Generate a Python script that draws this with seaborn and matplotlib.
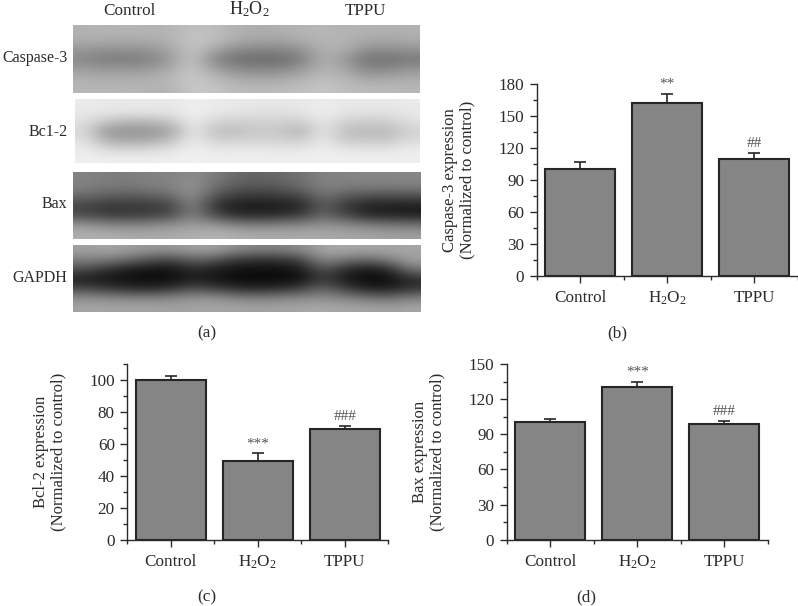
import numpy as np
import pandas as pd
import matplotlib
matplotlib.use("Agg")
import matplotlib.pyplot as plt
from matplotlib.ticker import MultipleLocator
import seaborn as sns

W, H = 798, 606
TXT = "#2b2b2b"
BAR = "#858585"
EDGE = "#262626"
H2O2 = r"H$_2$O$_2$"
FS = 12.3

# --- Data ---
groups = ["Control", "H2O2", "TPPU"]

casp_vals = [100, 162, 110]
casp_tops = [107, 171, 115]
casp_marks = ["", "**", "##"]

bcl_vals = [100, 49, 69.5]
bcl_tops = [102.5, 54, 71.3]
bcl_marks = ["", "***", "###"]

bax_vals = [100.5, 130.5, 98.5]
bax_tops = [103, 135, 101.5]
bax_marks = ["", "***", "###"]

# blot grey levels, read on a coarse grid (7 rows, 16 columns)
blot_casp = [
    [178, 180, 182, 180, 180, 192, 188, 178, 172, 176, 180, 184, 178, 180, 176, 178],
    [174, 172, 170, 172, 178, 198, 192, 172, 166, 166, 172, 182, 180, 168, 168, 172],
    [152, 146, 146, 150, 165, 198, 168, 140, 134, 134, 146, 178, 174, 146, 142, 148],
    [136, 124, 124, 128, 155, 198, 136, 112, 108, 108, 124, 176, 156, 116, 114, 122],
    [156, 150, 150, 152, 170, 200, 162, 138, 132, 134, 150, 180, 168, 134, 134, 148],
    [176, 172, 172, 176, 182, 202, 186, 170, 165, 168, 176, 190, 182, 165, 168, 172],
    [182, 182, 184, 180, 178, 200, 196, 186, 186, 186, 190, 198, 190, 186, 186, 182],
]
blot_bcl = [
    [235, 232, 232, 232, 232, 238, 235, 232, 232, 230, 232, 235, 232, 232, 232, 235],
    [232, 230, 228, 228, 228, 240, 232, 228, 225, 225, 228, 238, 230, 226, 226, 232],
    [225, 195, 185, 185, 200, 238, 212, 208, 210, 210, 205, 232, 208, 205, 205, 225],
    [215, 150, 148, 150, 165, 235, 190, 190, 200, 200, 178, 232, 190, 188, 185, 210],
    [225, 170, 165, 168, 190, 238, 205, 208, 210, 208, 200, 235, 198, 198, 195, 218],
    [235, 215, 210, 215, 225, 240, 230, 232, 232, 230, 230, 238, 228, 228, 228, 235],
    [238, 238, 238, 238, 238, 240, 238, 238, 238, 238, 238, 240, 238, 238, 238, 238],
]
blot_bax = [
    [130, 125, 125, 130, 130, 140, 125, 105, 100, 105, 115, 130, 130, 135, 135, 135],
    [130, 120, 120, 125, 130, 150, 110, 90, 85, 90, 105, 130, 125, 125, 125, 125],
    [105, 95, 90, 95, 105, 145, 85, 60, 55, 60, 70, 115, 90, 80, 75, 80],
    [70, 55, 55, 58, 65, 135, 50, 28, 25, 28, 35, 95, 55, 35, 30, 30],
    [75, 60, 60, 62, 75, 130, 75, 45, 40, 45, 60, 105, 70, 40, 35, 30],
    [150, 135, 130, 135, 145, 155, 150, 130, 125, 130, 135, 145, 140, 125, 120, 115],
    [175, 175, 170, 170, 170, 175, 180, 175, 170, 170, 170, 170, 165, 165, 160, 160],
]
blot_gapdh = [
    [160, 165, 160, 150, 150, 160, 160, 140, 130, 130, 140, 165, 170, 165, 165, 165],
    [130, 125, 110, 85, 70, 100, 90, 55, 50, 50, 70, 140, 120, 105, 130, 160],
    [80, 55, 30, 20, 18, 45, 30, 18, 15, 15, 25, 90, 45, 25, 40, 120],
    [30, 20, 15, 12, 12, 30, 20, 10, 10, 10, 15, 60, 25, 10, 12, 45],
    [70, 55, 40, 35, 45, 75, 60, 40, 35, 40, 60, 100, 60, 30, 25, 50],
    [140, 135, 130, 130, 135, 145, 145, 130, 125, 130, 135, 140, 130, 115, 105, 125],
    [165, 165, 165, 165, 160, 165, 165, 165, 160, 165, 165, 170, 165, 165, 160, 165],
]

sns.set_theme(style="ticks")
plt.rcParams.update({
    "font.family": "Liberation Serif",
    "mathtext.fontset": "custom",
    "mathtext.rm": "Liberation Serif",
    "mathtext.default": "rm",
    "text.color": TXT,
    "axes.labelcolor": TXT,
    "xtick.color": TXT,
    "ytick.color": TXT,
    "axes.edgecolor": TXT,
})


def px_axes(fig, left, top, right, bottom):
    return fig.add_axes([left / W, 1 - bottom / H, (right - left) / W, (bottom - top) / H])


def px_text(fig, x, y, s, **kw):
    kw.setdefault("fontsize", FS)
    kw.setdefault("ha", "center")
    kw.setdefault("va", "center")
    fig.text(x / W, 1 - y / H, s, **kw)


def draw_blot(fig, box, grid):
    ax = px_axes(fig, *box)
    ax.imshow(np.array(grid), cmap="gray", vmin=0, vmax=255, aspect="auto", interpolation="bicubic")
    ax.axis("off")


def draw_bars(fig, box, vals, tops, marks, ymax, major, ylabel):
    ax = px_axes(fig, *box)
    df = pd.DataFrame({"group": groups, "value": vals})
    sns.barplot(data=df, x="group", y="value", order=groups, color=BAR, saturation=1,
                width=0.8, edgecolor=EDGE, linewidth=1.5, ax=ax, zorder=3)
    # upper error bars only
    yerr = np.array(tops) - np.array(vals)
    ax.errorbar(range(3), vals, yerr=[np.zeros(3), yerr], fmt="none", ecolor=EDGE,
                elinewidth=1.2, capsize=4.5, capthick=1.2, zorder=2)
    for i, m in enumerate(marks):
        if m:
            ax.annotate(m, (i, tops[i]), xytext=(0, 2), textcoords="offset points",
                        ha="center", va="bottom", fontsize=11, color="#555555")
    ax.set_xlim(-0.5, 2.5)
    ax.set_ylim(0, ymax)
    ax.set_xticks(range(3))
    ax.set_xticklabels(["Control", H2O2, "TPPU"], fontsize=FS)
    ax.set_xticks([-0.5, 0.5, 1.5, 2.5], minor=True)
    ax.yaxis.set_major_locator(MultipleLocator(major))
    ax.yaxis.set_minor_locator(MultipleLocator(major / 2))
    ax.tick_params(axis="y", which="major", length=5, width=1, labelsize=FS, pad=4)
    ax.tick_params(axis="y", which="minor", length=3, width=1)
    ax.tick_params(axis="x", which="major", length=5, width=1, pad=5)
    ax.tick_params(axis="x", which="minor", length=3, width=1)
    ax.set_xlabel("")
    ax.set_ylabel(ylabel, fontsize=12, linespacing=1.15)
    ax.yaxis.set_label_coords(-0.233, 0.5)
    sns.despine(ax=ax)
    for s in ("left", "bottom"):
        ax.spines[s].set_linewidth(1)
    return ax


fig = plt.figure(figsize=(W / 100, H / 100), dpi=100, facecolor="white")

# (a) blots
draw_blot(fig, (73, 25, 420, 92.7), blot_casp)
draw_blot(fig, (75, 99, 420, 163.5), blot_bcl)
draw_blot(fig, (73, 172, 421, 238.7), blot_bax)
draw_blot(fig, (73, 245, 421, 311.7), blot_gapdh)

px_text(fig, 129, 11, "Control")
px_text(fig, 249, 9, H2O2, fontsize=13)
px_text(fig, 365, 11, "TPPU")
for y, name in zip([58, 132, 204, 278], ["Caspase-3", "Bc1-2", "Bax", "GAPDH"]):
    px_text(fig, 67.5, y, name, ha="right", fontsize=11.5)

# (b)-(d) bars
draw_bars(fig, (536.7, 84, 797.7, 275.7), casp_vals, casp_tops, casp_marks, 180, 30,
          "Caspase-3 expression\n(Normalized to control)")
draw_bars(fig, (127.3, 364, 388.3, 539.7), bcl_vals, bcl_tops, bcl_marks, 110, 20,
          "Bcl-2 expression\n(Normalized to control)")
draw_bars(fig, (506.7, 364, 767.7, 539.7), bax_vals, bax_tops, bax_marks, 150, 30,
          "Bax expression\n(Normalized to control)")

px_text(fig, 207, 333, "(a)")
px_text(fig, 617, 333, "(b)")
px_text(fig, 207, 597, "(c)")
px_text(fig, 586, 597, "(d)")

fig.savefig("out.png", dpi=100)
